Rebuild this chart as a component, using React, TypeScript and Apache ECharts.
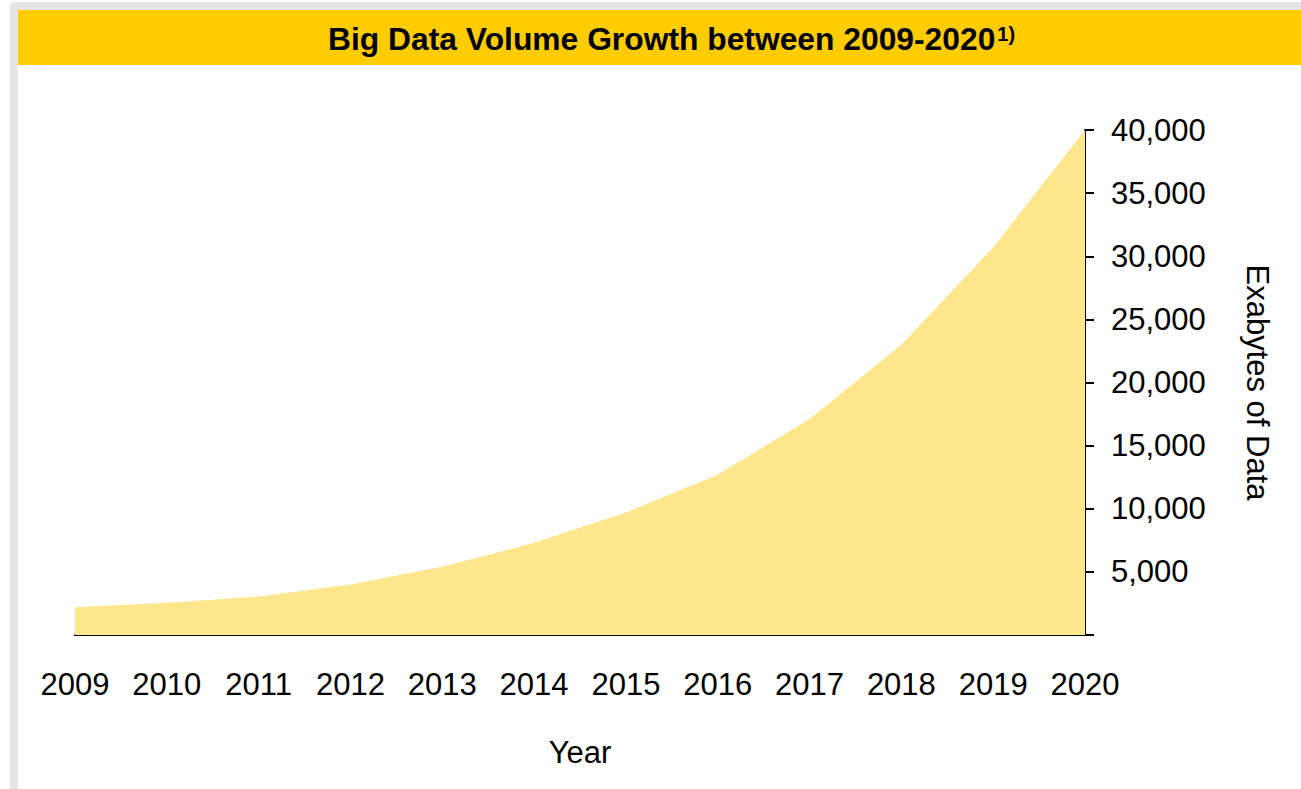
import React, { useEffect, useRef } from "react";
import * as echarts from "echarts";

const titleText = "Big Data Volume Growth between 2009-2020";
const titleNote = "1)";
const years = ["2009", "2010", "2011", "2012", "2013", "2014", "2015", "2016", "2017", "2018", "2019", "2020"];
const exabytes = [2200, 2550, 3050, 4000, 5400, 7300, 9700, 12700, 17100, 23000, 30700, 40000];
const yMin = 0;
const yMax = 40000;
const yStep = 5000;
const xName = "Year";
const yName = "Exabytes of Data";

const FONT = "'Liberation Sans', Arial, Helvetica, sans-serif";

export default function App() {
  const ref = useRef<HTMLDivElement>(null);
  useEffect(() => {
    if (!ref.current) return;
    const chart = echarts.init(ref.current, undefined, { renderer: "svg" });
    chart.setOption({
      animation: false,
      backgroundColor: "#ffffff",
      textStyle: { fontFamily: FONT },
      graphic: [
        { type: "rect", z: -10, silent: true, shape: { x: 10, y: 2, width: 1400, height: 900, r: 4 }, style: { fill: "#e5e5e5" } },
        { type: "rect", z: -9, silent: true, shape: { x: 18, y: 10, width: 1400, height: 900 }, style: { fill: "#ffffff" } },
        { type: "rect", z: -8, silent: true, shape: { x: 18, y: 10, width: 1400, height: 55 }, style: { fill: "#ffcc00" } },
      ],
      title: {
        text: `{a|${titleText}}{b|${titleNote}}`,
        left: 328,
        top: 21,
        padding: 0,
        textStyle: {
          rich: {
            a: { fontFamily: FONT, fontSize: 31.8, fontWeight: "bold", color: "#000", lineHeight: 36 },
            b: { fontFamily: FONT, fontSize: 20, fontWeight: "bold", color: "#000", lineHeight: 20, verticalAlign: "top", padding: [3, 0, 0, 2] },
          },
        },
      },
      grid: { left: 75, right: 216, top: 130, bottom: 154, containLabel: false },
      xAxis: {
        type: "category",
        data: years,
        boundaryGap: false,
        name: xName,
        nameLocation: "middle",
        nameGap: 102,
        nameTextStyle: { fontFamily: FONT, fontSize: 31, color: "#000" },
        axisLine: { show: true, lineStyle: { color: "#000", width: 2 } },
        axisTick: { show: false },
        axisLabel: { interval: 0, margin: 34, fontFamily: FONT, fontSize: 31, color: "#000" },
        splitLine: { show: false },
      },
      yAxis: {
        type: "value",
        position: "right",
        min: yMin,
        max: yMax,
        interval: yStep,
        name: yName,
        nameLocation: "middle",
        nameRotate: -90,
        nameGap: 157,
        nameTextStyle: { fontFamily: FONT, fontSize: 31, color: "#000" },
        axisLine: { show: true, lineStyle: { color: "#000", width: 2 } },
        axisTick: { show: true, inside: false, length: 9, lineStyle: { color: "#000", width: 2 } },
        axisLabel: {
          margin: 26,
          fontFamily: FONT,
          fontSize: 31,
          color: "#000",
          formatter: (v: number) => (v === 0 ? "" : v.toLocaleString("en-US")),
        },
        splitLine: { show: false },
      },
      series: [
        {
          type: "line",
          data: exabytes,
          showSymbol: false,
          symbol: "none",
          lineStyle: { width: 0, color: "#fee68c" },
          itemStyle: { color: "#fee68c" },
          areaStyle: { color: "#fee68c", opacity: 1 },
          z: 1,
        },
      ],
    });
    return () => chart.dispose();
  }, []);
  return (
    <div style={{ position: "fixed", left: 0, top: 0, width: 1301, height: 789, background: "#fff" }}>
      <div ref={ref} style={{ width: 1301, height: 789 }} />
    </div>
  );
}
